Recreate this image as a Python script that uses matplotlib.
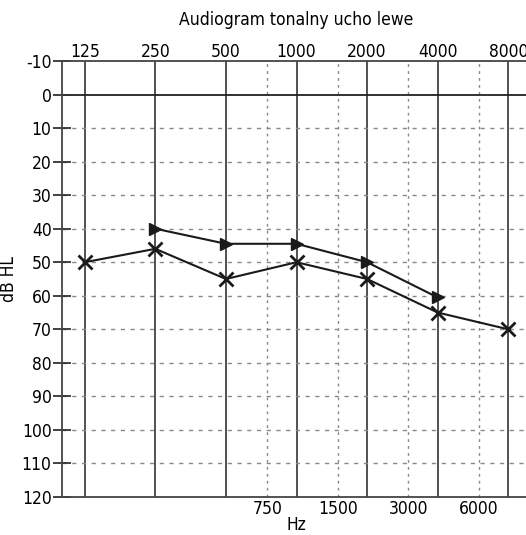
import matplotlib
matplotlib.use('Agg')
import matplotlib.pyplot as plt
from matplotlib import font_manager as fm
import numpy as np

# szukamy wąskiego fontu (jak w oryginale)
narrow = [f for f in fm.fontManager.ttflist
          if f.stretch in ('condensed', 'semi-condensed', 'extra-condensed')
          or 'Narrow' in f.name or 'Condensed' in f.name]
fam = ['Liberation Sans Narrow', 'DejaVu Sans']
if narrow:
    fam = [narrow[0].name, 'DejaVu Sans']
plt.rcParams['font.family'] = fam
plt.rcParams['font.stretch'] = 'condensed'

# dane audiogramu
octave_hz = [125, 250, 500, 1000, 2000, 4000, 8000]
octave_labels = ['125', '250', '500', '1000', '2000', '4000', '8000']
mid_hz = [750, 1500, 3000, 6000]
mid_labels = ['750', '1500', '3000', '6000']
db_ticks = list(range(-10, 121, 10))

x_freq = [125, 250, 500, 1000, 2000, 4000, 8000]
x_db = [50, 46, 55, 50, 55, 65, 70]
tri_freq = [250, 500, 1000, 2000, 4000]
tri_db = [40, 44.5, 44.5, 50, 60.5]

fig = plt.figure(figsize=(5.26, 5.35), dpi=100)
ax = fig.add_axes([62/526, 38/535, 469/526, 436/535])
ax.set_xscale('log')
ax.set_xlim(100, 10000)
ax.set_ylim(120, -10)

# siatka
for f in octave_hz:
    ax.axvline(f, color='#333333', lw=1.2, zorder=1)
for f in mid_hz:
    ax.axvline(f, color='#888888', lw=1.0, ls=(0, (2, 3)), zorder=1)
for d in db_ticks[1:-1]:
    if d == 0:
        ax.axhline(d, color='#222222', lw=1.3, zorder=1)
    else:
        ax.axhline(d, color='#888888', lw=1.0, ls=(0, (3, 4)), zorder=1)

ax.plot(tri_freq, tri_db, color='#1a1a1a', lw=1.5, marker='>', ms=8.5, zorder=3)
ax.plot(x_freq, x_db, color='#1a1a1a', lw=1.5, marker='x', ms=10, mew=2, zorder=3)

fs = 12.5
ax.set_yticks(db_ticks)
ax.set_yticklabels([str(d) for d in db_ticks])
ax.tick_params(axis='y', direction='inout', length=13, width=1.3, color='#333333',
               labelsize=fs, pad=1)
ax.set_xticks(mid_hz)
ax.set_xticklabels(mid_labels)
ax.xaxis.set_minor_locator(matplotlib.ticker.NullLocator())
ax.tick_params(axis='x', length=0, labelsize=fs, pad=2)
ax.set_xlabel('Hz', fontsize=fs, labelpad=-1)
ax.set_ylabel('dB HL', fontsize=fs, labelpad=3)

top = ax.secondary_xaxis('top')
top.set_xticks(octave_hz)
top.set_xticklabels(octave_labels)
top.xaxis.set_minor_locator(matplotlib.ticker.NullLocator())
top.tick_params(length=0, labelsize=fs, pad=0)
top.spines['top'].set_visible(False)

ax.spines['right'].set_visible(False)
for s in ['left', 'top', 'bottom']:
    ax.spines[s].set_color('#444444')
    ax.spines[s].set_linewidth(1.3)

ax.set_title('Audiogram tonalny ucho lewe', fontsize=fs, pad=26)

fig.savefig('out.png', dpi=100)
